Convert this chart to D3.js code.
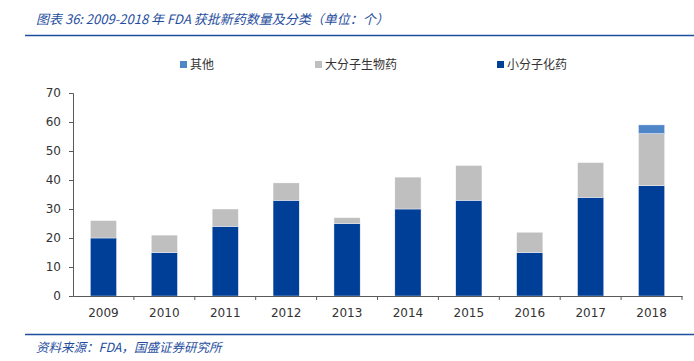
<!DOCTYPE html>
<html><head><meta charset="utf-8">
<script src="https://cdn.jsdelivr.net/npm/d3@7"></script>
<style>body{margin:0;background:#fff}svg{display:block}</style>
</head><body>
<script>
const years = ["2009","2010","2011","2012","2013","2014","2015","2016","2017","2018"];
const smallMolecule = [20,15,24,33,25,30,33,15,34,38];
const biologics = [6,6,6,6,2,11,12,7,12,18];
const others = [0,0,0,0,0,0,0,0,0,3];
const yTicks = [0,10,20,30,40,50,60,70];
const seriesNames = ["小分子化药","大分子生物药","其他"];
const colors = ["#003f98","#bfbfbf","#4f86c8"];

const W=694,H=361;
const svg=d3.select("body").append("svg").attr("width",W).attr("height",H);
const font="'Noto Sans CJK SC','Noto Sans',sans-serif";
const numFont="'DejaVu Sans',sans-serif";

// title
svg.append("text").attr("x",36).attr("y",24).attr("fill","#1f4e9e")
  .attr("font-family",font).attr("font-size",13).attr("font-style","italic")
  .text("图表 36:  2009-2018 年 FDA 获批新药数量及分类（单位：个）");
svg.append("line").attr("x1",25).attr("x2",694).attr("y1",35.5).attr("y2",35.5).attr("stroke","#1f4e9e").attr("stroke-width",1.5);
svg.append("line").attr("x1",25).attr("x2",694).attr("y1",334.5).attr("y2",334.5).attr("stroke","#1f4e9e").attr("stroke-width",1.5);
svg.append("text").attr("x",36).attr("y",352).attr("fill","#1f4e9e")
  .attr("font-family",font).attr("font-size",12.5).attr("font-style","italic")
  .text("资料来源：FDA，国盛证券研究所");

const x=d3.scaleBand().domain(years).range([73,682]).paddingInner(0.57).paddingOuter(0.285);
const y=d3.scaleLinear().domain([0,70]).range([296,93]);

const data=years.map((yr,i)=>({year:yr,"小分子化药":smallMolecule[i],"大分子生物药":biologics[i],"其他":others[i]}));
const stack=d3.stack().keys(seriesNames)(data);

const g=svg.append("g");
stack.forEach((s,si)=>{
  g.selectAll(null).data(s).enter().append("rect")
   .attr("x",d=>x(d.data.year)).attr("width",x.bandwidth())
   .attr("y",d=>y(d[1])).attr("height",d=>y(d[0])-y(d[1]))
   .attr("fill",colors[si]).attr("stroke","#ffffff").attr("stroke-width",0.4)
   .filter(d=>d[1]-d[0]<=0).remove();
});

// y axis
const ya=svg.append("g").attr("transform","translate(73,0)")
  .call(d3.axisLeft(y).tickValues(yTicks).tickSize(4).tickPadding(8));
ya.select(".domain").attr("stroke","#595959");
ya.selectAll(".tick line").attr("stroke","#595959");
ya.selectAll("text").attr("font-family",numFont).attr("font-size",12).attr("fill","#333");

// x axis
const xa=svg.append("g").attr("transform","translate(0,296)")
  .call(d3.axisBottom(x).tickSize(0).tickPadding(12));
xa.select(".domain").attr("stroke","#595959");
xa.selectAll("text").attr("font-family",numFont).attr("font-size",12).attr("fill","#333");
const step=x.step();
svg.append("g").selectAll("line").data(d3.range(1,years.length+1)).enter().append("line")
  .attr("x1",i=>73+i*step).attr("x2",i=>73+i*step).attr("y1",296).attr("y2",300)
  .attr("stroke","#595959");

// legend
const legend=[{n:"其他",c:colors[2],x:180},{n:"大分子生物药",c:colors[1],x:315},{n:"小分子化药",c:colors[0],x:497}];
const lg=svg.append("g").selectAll("g").data(legend).enter().append("g").attr("transform",d=>`translate(${d.x},61)`);
lg.append("rect").attr("width",7).attr("height",7).attr("fill",d=>d.c);
lg.append("text").attr("x",10).attr("y",8).attr("font-family",font).attr("font-size",12).attr("fill","#333").text(d=>d.n);
</script>
</body></html>
